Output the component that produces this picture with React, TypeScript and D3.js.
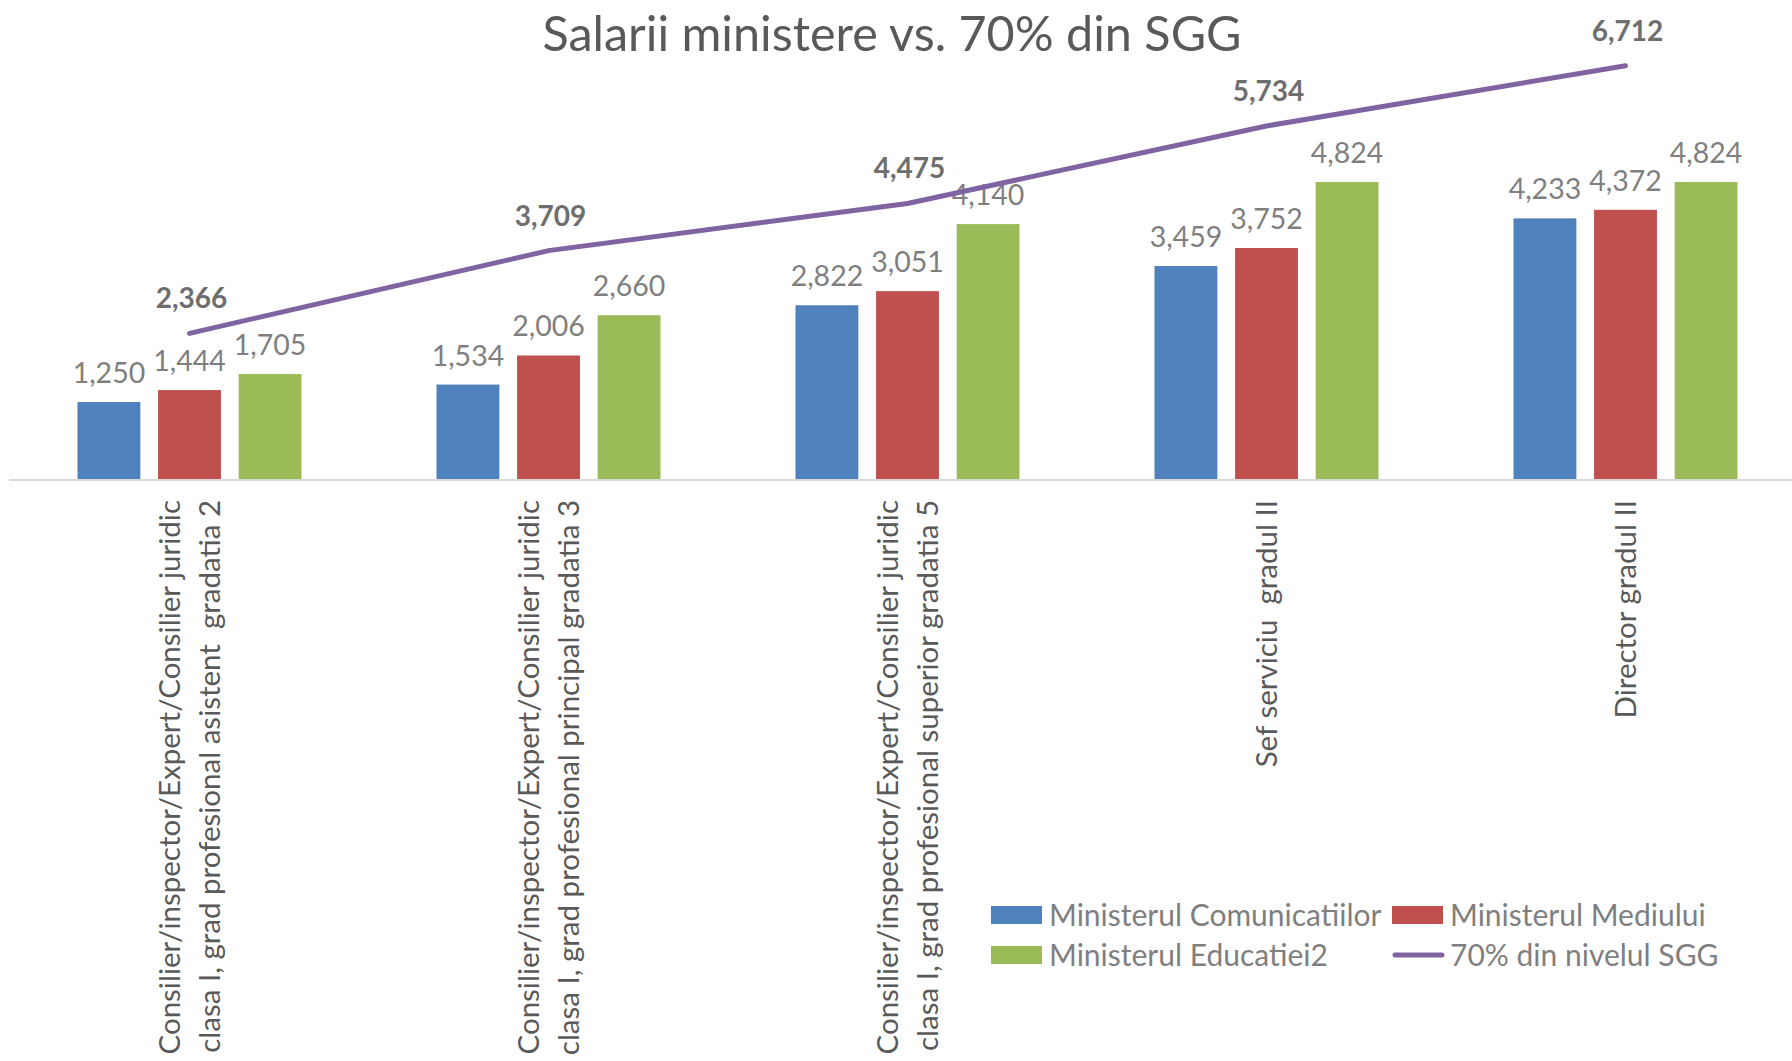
import React, { useRef, useEffect } from 'react';
import * as d3 from 'd3';

// categories (x axis, wrapped into lines like the original)
const categoryLines: string[][] = [
  ['Consilier/inspector/Expert/Consilier juridic', 'clasa I, grad profesional asistent  gradatia 2'],
  ['Consilier/inspector/Expert/Consilier juridic', 'clasa I, grad profesional principal gradatia 3'],
  ['Consilier/inspector/Expert/Consilier juridic', 'clasa I, grad profesional superior gradatia 5'],
  ['Sef serviciu  gradul II'],
  ['Director gradul II'],
];

// series values
const comunicatii = [1250, 1534, 2822, 3459, 4233];
const mediu = [1444, 2006, 3051, 3752, 4372];
const educatie = [1705, 2660, 4140, 4824, 4824];
const sgg70 = [2366, 3709, 4475, 5734, 6712];

const barSeries = [
  { name: 'Ministerul Comunicatiilor', values: comunicatii, color: '#4F81BD' },
  { name: 'Ministerul Mediului', values: mediu, color: '#C0504D' },
  { name: 'Ministerul Educatiei2', values: educatie, color: '#9BBB59' },
];
const lineSeries = { name: '70% din nivelul SGG', values: sgg70, color: '#8064A2' };

const W = 1792;
const H = 1061;
const FONT = 'Lato, "Open Sans", sans-serif';

const App = () => {
  const ref = useRef<SVGSVGElement | null>(null);

  useEffect(() => {
    if (!ref.current) return;
    const svg = d3.select(ref.current);
    svg.selectAll('*').remove();

    const baseY = 479;
    const fmt = d3.format(',');

    const x = d3.scaleBand<number>()
      .domain(d3.range(categoryLines.length))
      .range([10, 1805])
      .padding(0);

    const xSub = d3.scaleBand<number>()
      .domain(d3.range(barSeries.length))
      .range([-112, 112])
      .paddingInner(0.22)
      .paddingOuter(0);

    const y = d3.scaleLinear().domain([0, 7000]).range([baseY, 48]);

    const cx = (i: number) => (x(i) as number) + x.bandwidth() / 2;

    // title
    svg.append('text')
      .attr('x', 892)
      .attr('y', 51)
      .attr('text-anchor', 'middle')
      .attr('font-family', FONT)
      .attr('font-size', 48.5)
      .attr('fill', '#595959')
      .text('Salarii ministere vs. 70% din SGG');

    // bars
    barSeries.forEach((s, si) => {
      const g = svg.append('g');
      g.selectAll('rect')
        .data(s.values)
        .enter()
        .append('rect')
        .attr('x', (d, i) => cx(i) + (xSub(si) as number))
        .attr('y', d => y(d))
        .attr('width', xSub.bandwidth())
        .attr('height', d => baseY - y(d))
        .attr('fill', s.color);

      g.selectAll('text')
        .data(s.values)
        .enter()
        .append('text')
        .attr('x', (d, i) => cx(i) + (xSub(si) as number) + xSub.bandwidth() / 2)
        .attr('y', d => y(d) - 19)
        .attr('text-anchor', 'middle')
        .attr('font-family', FONT)
        .attr('font-size', 28.5)
        .attr('fill', '#7F7F7F')
        .text(d => fmt(d));
    });

    // x axis line
    svg.append('line')
      .attr('x1', 9)
      .attr('x2', W)
      .attr('y1', baseY + 1)
      .attr('y2', baseY + 1)
      .attr('stroke', '#D9D9D9')
      .attr('stroke-width', 2);

    // line series
    const line = d3.line<number>()
      .x((d, i) => cx(i))
      .y(d => y(d));

    svg.append('path')
      .datum(lineSeries.values)
      .attr('d', line)
      .attr('fill', 'none')
      .attr('stroke', lineSeries.color)
      .attr('stroke-width', 5)
      .attr('stroke-linecap', 'round')
      .attr('stroke-linejoin', 'round');

    svg.append('g')
      .selectAll('text')
      .data(lineSeries.values)
      .enter()
      .append('text')
      .attr('x', (d, i) => cx(i) + 2)
      .attr('y', d => y(d) - 25)
      .attr('text-anchor', 'middle')
      .attr('font-family', FONT)
      .attr('font-size', 28)
      .attr('font-weight', 'bold')
      .attr('fill', '#6E6E6E')
      .text(d => fmt(d));

    // category labels, rotated
    const lineGap = 40;
    categoryLines.forEach((lines, i) => {
      const t = svg.append('text')
        .attr('transform', `translate(${cx(i)},500) rotate(-90)`)
        .attr('text-anchor', 'end')
        .attr('font-family', FONT)
        .attr('font-size', 29.5)
        .attr('fill', '#595959')
        .style('white-space', 'pre');
      const off = -((lines.length - 1) * lineGap) / 2;
      lines.forEach((l, li) => {
        t.append('tspan')
          .attr('x', 0)
          .attr('y', off + li * lineGap + 10)
          .text(l);
      });
    });

    // legend
    const legendItems = [
      { ...barSeries[0], col: 0, row: 0, type: 'bar' },
      { ...barSeries[1], col: 1, row: 0, type: 'bar' },
      { ...barSeries[2], col: 0, row: 1, type: 'bar' },
      { ...lineSeries, col: 1, row: 1, type: 'line' },
    ];
    const colX = [991, 1392];
    const rowY = [915, 955];
    const lg = svg.append('g');
    legendItems.forEach(it => {
      const lx = colX[it.col];
      const ly = rowY[it.row];
      if (it.type === 'bar') {
        lg.append('rect')
          .attr('x', lx)
          .attr('y', ly - 9)
          .attr('width', 51)
          .attr('height', 18)
          .attr('fill', it.color);
      } else {
        lg.append('line')
          .attr('x1', lx + 3)
          .attr('x2', lx + 50)
          .attr('y1', ly)
          .attr('y2', ly)
          .attr('stroke', it.color)
          .attr('stroke-width', 5)
          .attr('stroke-linecap', 'round');
      }
      lg.append('text')
        .attr('x', lx + 58)
        .attr('y', ly + 10.5)
        .attr('font-family', FONT)
        .attr('font-size', 30)
        .attr('fill', '#7F7F7F')
        .text(it.name);
    });
  }, []);

  return (
    <div style={{ position: 'absolute', left: 0, top: 0 }}>
      <svg ref={ref} width={W} height={H} style={{ display: 'block', background: '#fff' }} />
    </div>
  );
};

export default App;
